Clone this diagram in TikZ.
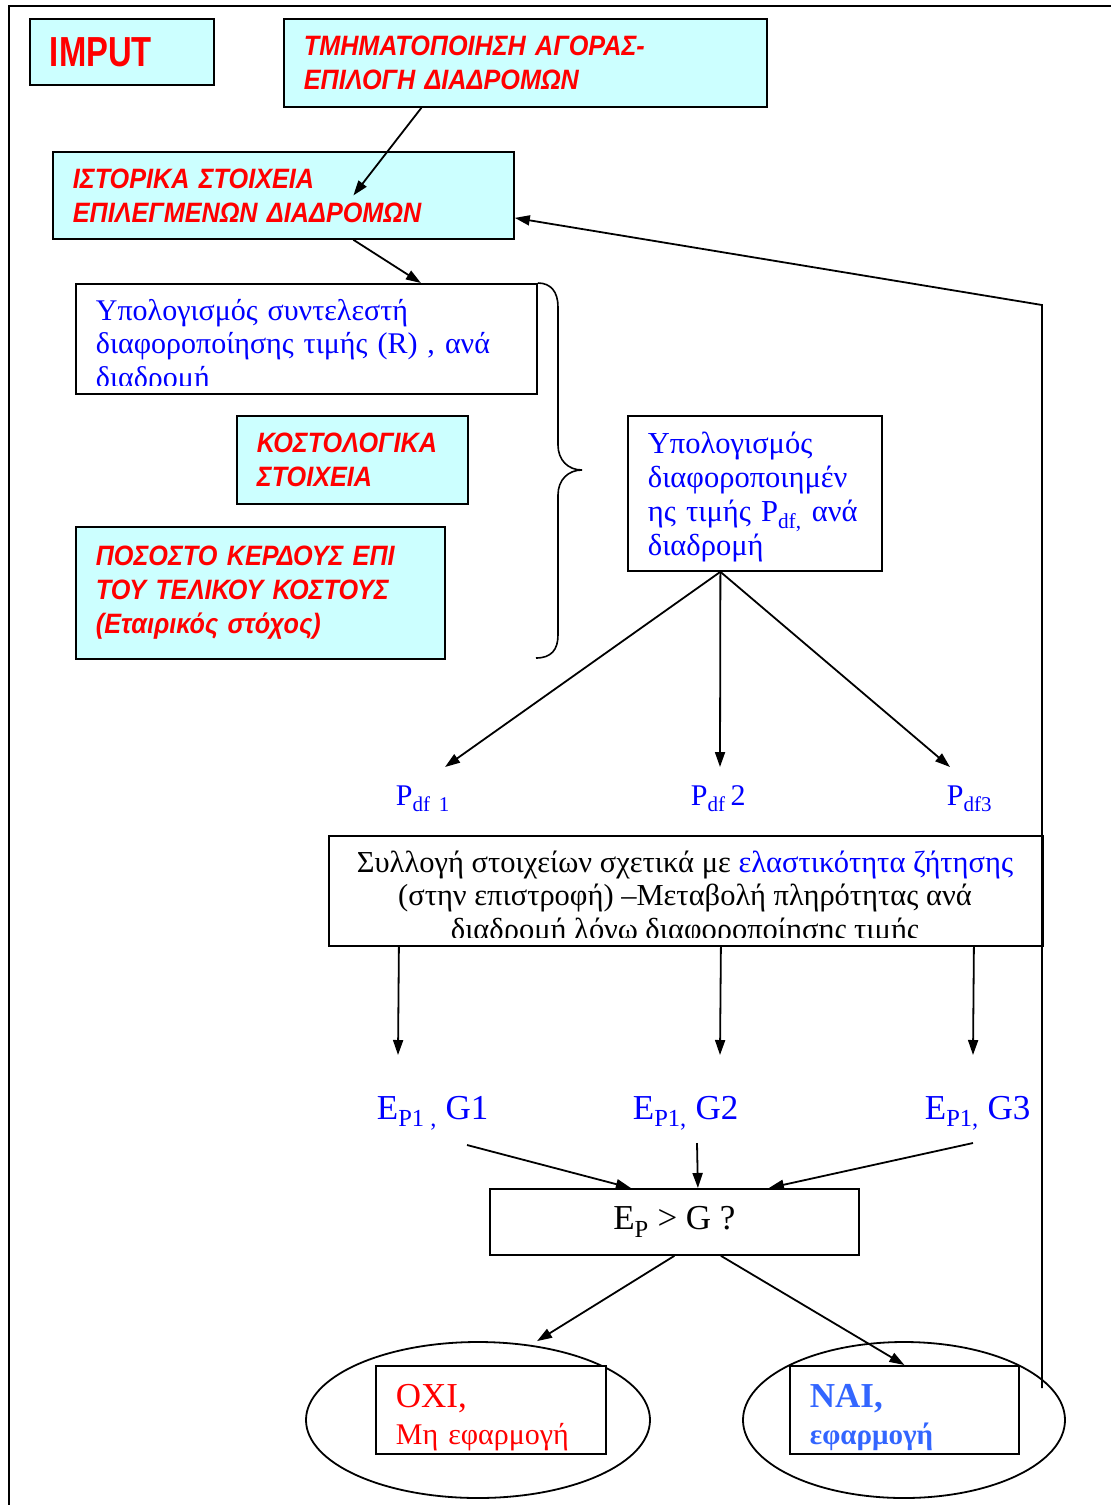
\documentclass[tikz,border=0pt]{standalone}
\usepackage{fontspec}
\setmainfont{Liberation Serif}
\setsansfont{Liberation Sans}
\newfontfamily\redsans[FakeStretch=0.9]{Liberation Sans}
\newfontfamily\impsans[FakeStretch=0.78]{Liberation Sans}
\usetikzlibrary{arrows.meta,calc,shapes.geometric}
\definecolor{lightcyan}{RGB}{204,255,255}
\definecolor{redtxt}{RGB}{255,0,0}
\definecolor{bluetxt}{RGB}{0,0,255}
\definecolor{naiblue}{RGB}{51,102,255}

\begin{document}
\begin{tikzpicture}[x=1pt, y=-1pt, line width=1.8pt,
    cbox/.style={draw, fill=lightcyan, anchor=north west, inner xsep=20pt,
                 inner ysep=0pt, align=left, text=redtxt,
                 font=\redsans\bfseries\itshape\fontsize{28}{34}\selectfont},
    wbox/.style={draw, fill=white, anchor=north west, inner sep=0pt},
    wtxt/.style={anchor=north west, inner xsep=20pt, inner ysep=0pt,
                 align=left, text=bluetxt, font=\fontsize{30}{33.5}\selectfont},
    lbl/.style={anchor=base west, inner sep=0pt, text=bluetxt,
                font=\fontsize{35}{40}\selectfont},
    arr/.style={-{Triangle[length=15pt,width=10pt]}}
]
\useasboundingbox (0,0) rectangle (1111,1505);
% outer frame
\draw[line width=2.5pt] (9,1505) -- (9,6) -- (1111,6);

% input boxes
\node[cbox, text width=144pt, minimum height=66pt,
      font=\impsans\bfseries\fontsize{42}{48}\selectfont] (imput) at (29,18) {IMPUT};
\node[cbox, text width=443pt, minimum height=88pt] (tmima) at (283,18)
    {ΤΜΗΜΑΤΟΠΟΙΗΣΗ ΑΓΟΡΑΣ-\\ΕΠΙΛΟΓΗ ΔΙΑΔΡΟΜΩΝ};
\node[cbox, text width=421pt, minimum height=87pt] (istor) at (52,151)
    {ΙΣΤΟΡΙΚΑ ΣΤΟΙΧΕΙΑ\\ΕΠΙΛΕΓΜΕΝΩΝ ΔΙΑΔΡΟΜΩΝ};

\node[wbox, minimum width=461pt, minimum height=110pt] (rcoef) at (75,283) {};
\begin{scope}
  \clip (75,283) rectangle (536,385);
  \node[wtxt, text width=421pt] (rtxt) at (75,298)
      {Υπολογισμός συντελεστή\\διαφοροποίησης τιμής (R) , ανά\\διαδρομή};
\end{scope}

\node[cbox, text width=191pt, minimum height=88pt] (kostol) at (236,415)
    {ΚΟΣΤΟΛΟΓΙΚΑ\\ΣΤΟΙΧΕΙΑ};
\node[cbox, text width=329pt, minimum height=132pt] (pososto) at (75,526)
    {ΠΟΣΟΣΤΟ ΚΕΡΔΟΥΣ ΕΠΙ\\ΤΟΥ ΤΕΛΙΚΟΥ ΚΟΣΤΟΥΣ\\(Εταιρικός στόχος)};

% brace
\draw[line width=1.6pt] (rcoef.north east) .. controls (551,283) and (558,292) .. (558,307)
    -- (558,445) .. controls (558,460) and (568,470) .. (582,470)
    .. controls (568,470) and (558,480) .. (558,495)
    -- (558,635) .. controls (558,650) and (551,658) .. (536,658);

\node[wtxt, draw, fill=white, text width=214pt, minimum height=155pt,
      font=\fontsize{30.5}{34}\selectfont] (pdfcalc) at (627,415)
    {\rule{0pt}{29pt}Υπολογισμός\\διαφοροποιημέν\\ης τιμής P\textsubscript{df,} ανά\\διαδρομή};

% price labels
\node[lbl, font=\fontsize{30}{36}\selectfont] (pa) at (395,805) {P\textsubscript{df\, 1}};
\node[lbl, font=\fontsize{30}{36}\selectfont] (pb) at (690,805) {P\textsubscript{df}\,2};
\node[lbl, font=\fontsize{30}{36}\selectfont] (pc) at (946,805) {P\textsubscript{df3}};

% collection box
\node[wbox, minimum width=714pt, minimum height=110pt] (coll) at (328,835) {};
\begin{scope}
  \clip (328,835) rectangle (1042,937);
  \node[anchor=north, inner sep=0pt, align=center, font=\fontsize{30.5}{33.5}\selectfont]
      (colltxt) at (685,850)
      {Συλλογή στοιχείων σχετικά με \textcolor{bluetxt}{ελαστικότητα ζήτησης}\\
       (στην επιστροφή) –Μεταβολή πληρότητας ανά\\
       διαδρομή λόγω διαφοροποίησης τιμής};
\end{scope}

% elasticity labels
\node[lbl] (ga) at (376,1119) {E\textsubscript{P1 ,} G1};
\node[lbl] (gb) at (632,1119) {E\textsubscript{P1,} G2};
\node[lbl] (gc) at (924,1119) {E\textsubscript{P1,} G3};

\node[wbox, minimum width=369pt, minimum height=66pt,
      font=\fontsize{35}{40}\selectfont] (ep) at (489,1188) {E\textsubscript{P} > G ?};

% outcomes
\node[ellipse, draw, minimum width=344pt, minimum height=156pt, inner sep=0pt] (eno) at (478,1420) {};
\node[ellipse, draw, minimum width=322pt, minimum height=156pt, inner sep=0pt] (eyes) at (904,1420) {};
\node[wbox, inner xsep=20pt, text width=190pt, minimum height=88pt, align=left,
      text=redtxt, font=\fontsize{30}{37}\selectfont] (nobox) at (375,1365)
    {\rule{0pt}{38pt}{\fontsize{35}{37}\selectfont ΟΧΙ,}\\Μη εφαρμογή};
\node[wbox, inner xsep=20pt, text width=189pt, minimum height=88pt, align=left,
      text=naiblue, font=\bfseries\fontsize{29}{37}\selectfont] (yesbox) at (789,1365)
    {\rule{0pt}{38pt}{\fontsize{35}{37}\selectfont ΝΑΙ,}\\εφαρμογή};

% connectors
\draw[arr] ([xshift=-104pt]tmima.south) -- ([xshift=70pt]istor.center);
\draw[arr] ([xshift=70pt]istor.south) -- ([xshift=114.5pt]rcoef.north);

\draw[arr] ([xshift=-34.5pt]pdfcalc.south) -- ([shift={(50pt,38pt)}]pa.base west);
\draw[arr] ([xshift=-34.5pt]pdfcalc.south) -- ([shift={(30pt,38pt)}]pb.base west);
\draw[arr] ([xshift=-34.5pt]pdfcalc.south) -- ([shift={(4pt,38pt)}]pc.base west);

\draw[arr] ([xshift=-287pt]coll.south) -- ([shift={(22pt,64pt)}]ga.base west);
\draw[arr] ([xshift=35pt]coll.south) -- ([shift={(88pt,64pt)}]gb.base west);
\draw[arr] ([xshift=288pt]coll.south) -- ([shift={(49pt,64pt)}]gc.base west);

\draw[arr] ([shift={(91pt,-26pt)}]ga.base west) -- ([xshift=-43.5pt]ep.north);
\draw[arr] ([shift={(65pt,-24pt)}]gb.base west) -- ([xshift=23.5pt]ep.north);
\draw[arr] ([shift={(49pt,-24pt)}]gc.base west) -- ([xshift=94.5pt]ep.north);

\draw[arr] (ep.south) -- ([xshift=59pt]eno.north);
\draw[arr] ([xshift=46.5pt]ep.south) -- (yesbox.north);

% feedback loop
\coordinate (fbbot) at (1042,1388);
\coordinate (fbtop) at (1042,305);
\draw[arr] (fbbot) -- (fbtop) -- ([yshift=-22.5pt]istor.east);
\end{tikzpicture}
\end{document}
